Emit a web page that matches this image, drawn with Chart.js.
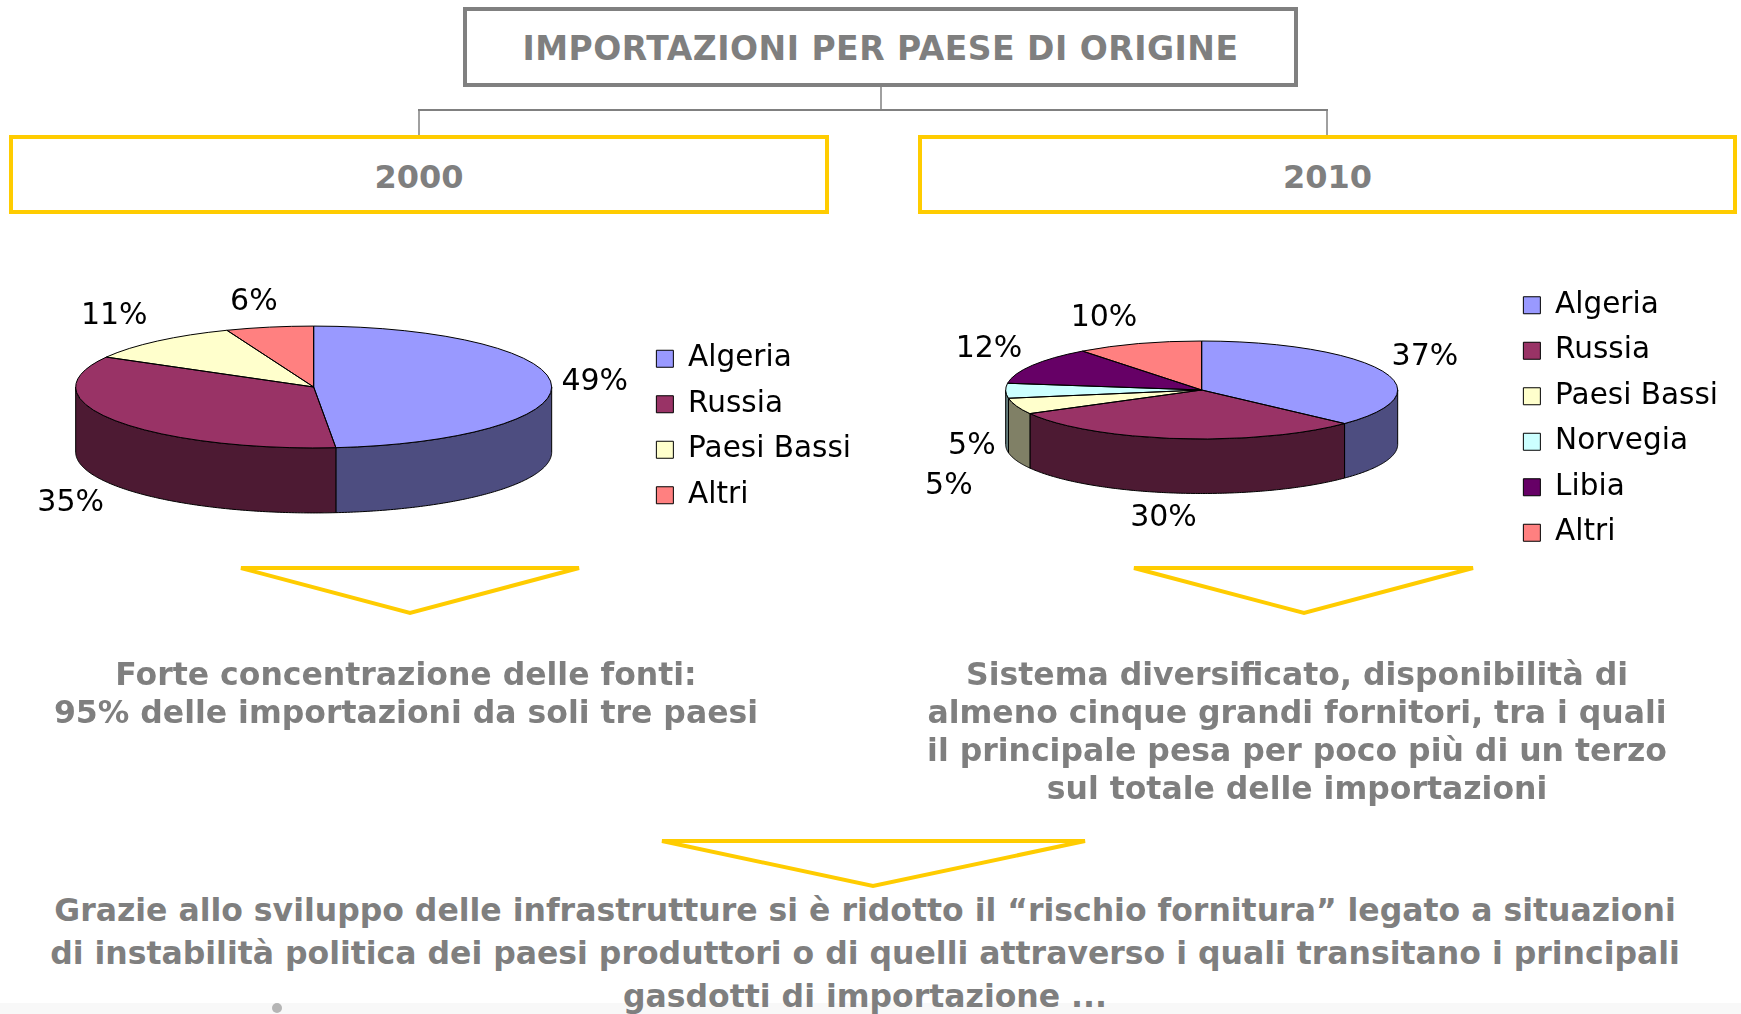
<!DOCTYPE html>
<html>
<head>
<meta charset="utf-8">
<script src="https://cdn.jsdelivr.net/npm/chart.js@4.4.1/dist/chart.umd.min.js"></script>
<style>
html, body { margin: 0; padding: 0; background: #fff; }
body { width: 1741px; height: 1014px; overflow: hidden; position: relative; font-family: 'DejaVu Sans', sans-serif; }
.box { position: absolute; box-sizing: border-box; }
.txt { position: absolute; color: #7f7f7f; font-weight: bold; text-align: center; white-space: nowrap; }
canvas { position: absolute; }
svg { position: absolute; left: 0; top: 0; }
</style>
</head>
<body>
<svg width="1741" height="1014">
  <rect x="0" y="1003" width="1741" height="11" fill="#f8f8f8"/>
  <circle cx="277" cy="1008" r="5" fill="#b5b5b5"/>
  <line x1="881" y1="87" x2="881" y2="110" stroke="#808080" stroke-width="1.5"/>
  <line x1="418" y1="110" x2="1328" y2="110" stroke="#808080" stroke-width="2"/>
  <line x1="419" y1="110" x2="419" y2="136" stroke="#808080" stroke-width="1.5"/>
  <line x1="1327" y1="110" x2="1327" y2="136" stroke="#808080" stroke-width="1.5"/>
  <polygon points="241,568 579,568 410,613" fill="none" stroke="#FFCC00" stroke-width="4"/>
  <polygon points="1134,568 1473,568 1304,613" fill="none" stroke="#FFCC00" stroke-width="4"/>
  <polygon points="662,841 1085,841 873,886" fill="none" stroke="#FFCC00" stroke-width="4"/>
</svg>

<div class="box" style="left:463px;top:7px;width:835px;height:80px;border:4px solid #808080;"></div>
<div class="txt" style="left:463px;width:835px;top:29px;font-size:33px;line-height:40px;letter-spacing:0.5px;">IMPORTAZIONI PER PAESE DI ORIGINE</div>

<div class="box" style="left:9px;top:135px;width:820px;height:79px;border:4px solid #FFCC00;"></div>
<div class="txt" style="left:9px;width:820px;top:157px;font-size:32px;line-height:40px;">2000</div>
<div class="box" style="left:918px;top:135px;width:819px;height:79px;border:4px solid #FFCC00;"></div>
<div class="txt" style="left:918px;width:819px;top:157px;font-size:32px;line-height:40px;">2010</div>

<canvas id="c2000" width="881" height="476" style="left:-20px;top:189px;"></canvas>
<canvas id="c2010" width="836" height="392" style="left:892px;top:223px;"></canvas>

<div class="txt" style="left:0px;width:812px;top:655px;font-size:31.5px;line-height:38px;">Forte concentrazione delle fonti:<br>95% delle importazioni da soli tre paesi</div>
<div class="txt" style="left:857px;width:880px;top:655px;font-size:31.5px;line-height:38px;">Sistema diversificato, disponibilità di<br>almeno cinque grandi fornitori, tra i quali<br>il principale pesa per poco più di un terzo<br>sul totale delle importazioni</div>
<div class="txt" style="left:0px;width:1730px;top:889px;font-size:31.5px;line-height:43px;">Grazie allo sviluppo delle infrastrutture si è ridotto il “rischio fornitura” legato a situazioni<br>di instabilità politica dei paesi produttori o di quelli attraverso i quali transitano i principali<br>gasdotti di importazione ...</div>

<script>
// ---- data (percent shares) ----
const categories2000 = ['Algeria', 'Russia', 'Paesi Bassi', 'Altri'];
const values2000 = [49, 35, 11, 6];
const categories2010 = ['Algeria', 'Russia', 'Paesi Bassi', 'Norvegia', 'Libia', 'Altri'];
const values2010 = [37.0, 30.0, 5.3, 4.9, 12.4, 10.4];

// ---- styles ----
const topColors = { 'Algeria': '#9999FF', 'Russia': '#993366', 'Paesi Bassi': '#FFFFCC', 'Norvegia': '#CCFFFF', 'Libia': '#660066', 'Altri': '#FF8080' };
const sideColors = { 'Algeria': '#4D4D80', 'Russia': '#4D1A33', 'Paesi Bassi': '#808066', 'Norvegia': '#668080', 'Libia': '#330033', 'Altri': '#804040' };

Chart.defaults.font.family = "'DejaVu Sans', sans-serif";
Chart.defaults.color = '#000';

const clamp1 = v => Math.max(-1, Math.min(1, v));

const pie3d = {
  id: 'pie3d',
  beforeDatasetsDraw(chart, args, o) {
    const ctx = chart.ctx;
    const arcs = chart.getDatasetMeta(0).data;
    if (!arcs.length) return;
    const x = arcs[0].x, y = arcs[0].y, r = arcs[0].outerRadius;
    const cy = y + o.offsetY, k = o.tilt, d = o.depth;
    ctx.save();
    ctx.lineWidth = 1; ctx.strokeStyle = o.edgeColor; ctx.lineJoin = 'round';
    arcs.forEach((arc, i) => {
      const s = Math.max(arc.startAngle, 0), e = Math.min(arc.endAngle, Math.PI);
      if (e <= s) return;
      const n = Math.max(8, Math.ceil((e - s) * 80));
      ctx.beginPath();
      for (let j = 0; j <= n; j++) {
        const t = s + (e - s) * j / n;
        const px = x + r * Math.cos(t), py = cy + k * r * Math.sin(t);
        if (j === 0) ctx.moveTo(px, py); else ctx.lineTo(px, py);
      }
      for (let j = n; j >= 0; j--) {
        const t = s + (e - s) * j / n;
        ctx.lineTo(x + r * Math.cos(t), cy + k * r * Math.sin(t) + d);
      }
      ctx.closePath();
      ctx.fillStyle = o.sideColors[i];
      ctx.fill();
      ctx.stroke();
    });
    ctx.restore();
    ctx.save();
    ctx.translate(0, cy);
    ctx.scale(1, k);
    ctx.translate(0, -y);
  },
  afterDatasetsDraw(chart, args, o) {
    const ctx = chart.ctx;
    const arcs = chart.getDatasetMeta(0).data;
    if (!arcs.length) return;
    ctx.restore();
    const x = arcs[0].x, y = arcs[0].y, r = arcs[0].outerRadius;
    const cy = y + o.offsetY, k = o.tilt, d = o.depth;
    ctx.save();
    ctx.lineWidth = 1; ctx.strokeStyle = o.edgeColor; ctx.lineJoin = 'round';
    arcs.forEach(arc => {
      ctx.beginPath();
      ctx.moveTo(x, cy);
      ctx.ellipse(x, cy, r, r * k, 0, arc.startAngle, arc.endAngle);
      ctx.closePath();
      ctx.stroke();
    });
    const vals = chart.data.datasets[0].data;
    ctx.font = o.labelSize + "px 'DejaVu Sans', sans-serif";
    ctx.fillStyle = '#000';
    ctx.textAlign = 'center';
    ctx.textBaseline = 'middle';
    const placed = [];
    const m0 = o.labelMargin;
    for (let i = arcs.length - 1; i >= 0; i--) {
      const arc = arcs[i];
      const m = (arc.startAngle + arc.endAngle) / 2;
      const c = Math.cos(m), sn = Math.sin(m);
      const txt = Math.round(vals[i]) + '%';
      const w = ctx.measureText(txt).width, h = o.labelSize;
      const rx = x + r * c, ry = cy + k * r * sn + (sn > 0 ? d : 0);
      const fx = clamp1(o.spreadX * c), fy = clamp1(o.spreadY * sn);
      const bx = rx + fx * (w / 2 + o.labelGap), by = ry + fy * (h / 2 + o.labelGap);
      const len = Math.hypot(fx, fy) || 1, ux = fx / len, uy = fy / len;
      let lx = bx, ly = by, b;
      for (let t = 0; t < 200; t++) {
        lx = bx + ux * t; ly = by + uy * t;
        b = { l: lx - w / 2, r: lx + w / 2, t: ly - h / 2, b: ly + h / 2 };
        if (!placed.some(p => b.l < p.r + m0 && b.r > p.l - m0 && b.t < p.b + m0 && b.b > p.t - m0)) break;
      }
      placed.push(b);
      ctx.fillText(txt, lx, ly);
    }
    ctx.restore();
  }
};

function makePie(id, cats, vals, geo) {
  return new Chart(document.getElementById(id), {
    type: 'pie',
    data: {
      labels: cats,
      datasets: [{
        data: vals,
        backgroundColor: cats.map(c => topColors[c]),
        borderWidth: 0,
        hoverOffset: 0
      }]
    },
    options: {
      responsive: false,
      animation: false,
      events: [],
      radius: geo.radius,
      layout: { padding: { left: geo.padLeft, right: 0, top: 0, bottom: 0 } },
      plugins: {
        tooltip: { enabled: false },
        legend: {
          position: 'right',
          align: 'center',
          labels: {
            boxWidth: 17,
            boxHeight: 17,
            padding: 16,
            color: '#000',
            font: { size: 29.5 },
            generateLabels(chart) {
              const ds = chart.data.datasets[0];
              return chart.data.labels.map((t, i) => ({
                text: t, fillStyle: ds.backgroundColor[i], strokeStyle: '#000',
                lineWidth: 1, fontColor: '#000', hidden: false, index: i
              }));
            }
          }
        },
        pie3d: {
          tilt: geo.tilt, depth: geo.depth, offsetY: geo.offsetY,
          sideColors: cats.map(c => sideColors[c]),
          edgeColor: '#000', labelSize: 30, labelGap: 10, labelMargin: 10,
          spreadX: 2.5, spreadY: 1.3
        }
      }
    },
    plugins: [pie3d]
  });
}

makePie('c2000', categories2000, values2000, { radius: 238, padLeft: 7, tilt: 0.256, depth: 65, offsetY: -40 });
makePie('c2010', categories2010, values2010, { radius: 196, padLeft: 4, tilt: 0.25, depth: 54.5, offsetY: -29 });
</script>
</body>
</html>
